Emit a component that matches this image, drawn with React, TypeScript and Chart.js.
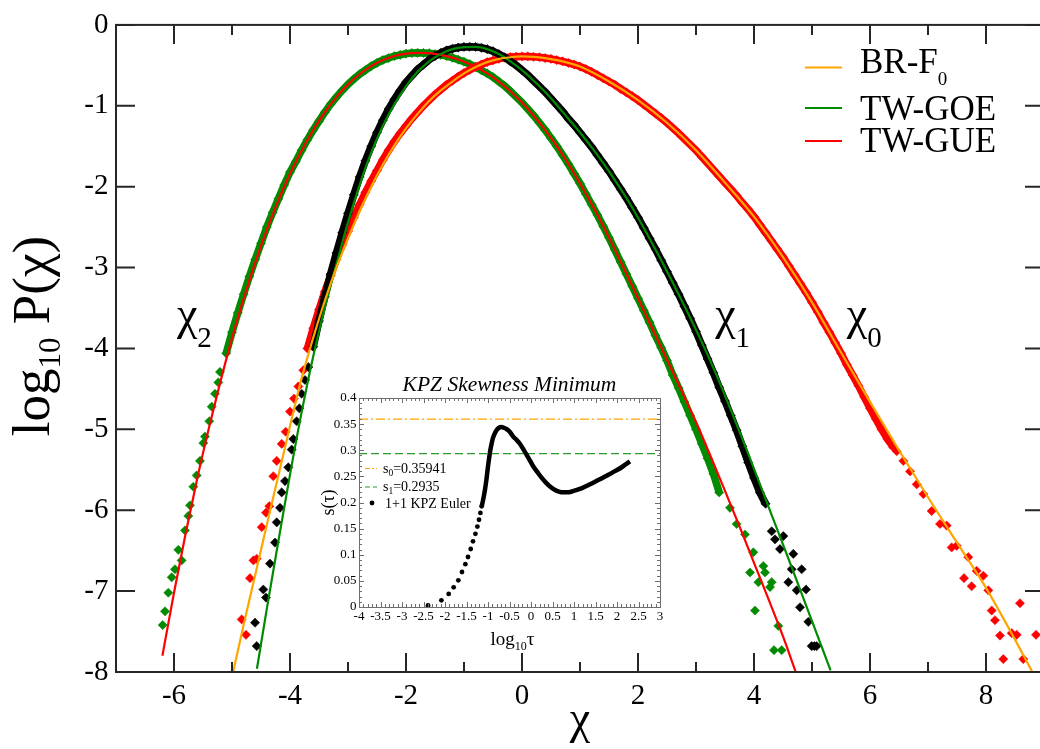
import React, { useEffect, useRef } from 'react';
import { Chart, registerables } from 'chart.js';

Chart.register(...registerables);

const SERIF = '"Liberation Serif", "Times New Roman", serif';
Chart.defaults.font.family = SERIF;
Chart.defaults.color = '#000';

const AXIS = '#262626';
const ORANGE = '#ffa500';
const GREEN = '#008b00';
const RED = '#ff0000';
const BLACK = '#000000';

// ---------------- main chart axes ----------------
const X_MIN = -7;
const X_MAX = 9;
const Y_MIN = -8;
const Y_MAX = 0;
const X_TICKS = [-6, -4, -2, 0, 2, 4, 6, 8];
const X_MINOR_TICKS = [-7, -5, -3, -1, 1, 3, 5, 7, 9];
const Y_TICKS = [-8, -7, -6, -5, -4, -3, -2, -1, 0];

// ---------------- theory curves (x, log10 P) ----------------
const BR_F0 = [
  [-4.98, -8.0], [-4.8, -7.42], [-4.6, -6.8], [-4.4, -6.18], [-4.2, -5.57], [-4.0, -4.96], [-3.8, -4.37],
  [-3.6, -3.87], [-3.4, -3.41], [-3.2, -3.0], [-3.0, -2.64], [-2.8, -2.3], [-2.6, -2.0], [-2.4, -1.73],
  [-2.2, -1.49], [-2.0, -1.28], [-1.8, -1.1], [-1.6, -0.94], [-1.4, -0.81], [-1.2, -0.7], [-1.0, -0.6],
  [-0.8, -0.52], [-0.6, -0.46], [-0.4, -0.42], [-0.2, -0.4], [0, -0.39], [0.2, -0.395], [0.4, -0.41],
  [0.6, -0.435], [0.8, -0.47], [1.0, -0.515], [1.5, -0.7], [2.0, -0.93], [2.5, -1.21], [3.0, -1.55],
  [3.5, -1.95], [4.0, -2.37], [4.5, -2.87], [5.0, -3.43], [5.5, -4.05], [6.0, -4.66], [6.5, -5.26],
  [7.0, -5.84], [7.5, -6.4], [8.0, -6.96], [8.5, -7.6], [8.8, -8.0],
];

const TW_GOE = [
  [-4.57, -7.96], [-4.4, -7.22], [-4.2, -6.38], [-4.0, -5.56], [-3.8, -4.79], [-3.6, -4.1], [-3.4, -3.5],
  [-3.2, -2.96], [-3.0, -2.44], [-2.8, -1.98], [-2.6, -1.58], [-2.4, -1.25], [-2.2, -0.98], [-2.0, -0.76],
  [-1.8, -0.58], [-1.6, -0.45], [-1.4, -0.36], [-1.2, -0.3], [-1.0, -0.275], [-0.8, -0.272], [-0.6, -0.3],
  [-0.4, -0.36], [-0.2, -0.45], [0, -0.56], [0.2, -0.69], [0.4, -0.83], [0.6, -0.99], [0.8, -1.16],
  [1.0, -1.33], [1.25, -1.56], [1.5, -1.81], [1.8, -2.14], [2.1, -2.51], [2.4, -2.91], [2.7, -3.33],
  [3.0, -3.77], [3.3, -4.24], [3.6, -4.76], [3.9, -5.3], [4.3, -6.05], [4.7, -6.8], [5.0, -7.37], [5.32, -7.98],
];

const TW_GUE = [
  [-6.2, -7.8], [-6.0, -7.02], [-5.8, -6.29], [-5.6, -5.61], [-5.4, -4.99], [-5.2, -4.41], [-5.0, -3.875],
  [-4.8, -3.385], [-4.6, -2.94], [-4.4, -2.535], [-4.2, -2.17], [-4.0, -1.84], [-3.8, -1.556], [-3.6, -1.3],
  [-3.4, -1.08], [-3.2, -0.893], [-3.0, -0.735], [-2.8, -0.61], [-2.6, -0.51], [-2.4, -0.435], [-2.2, -0.385],
  [-2.0, -0.355], [-1.8, -0.345], [-1.6, -0.35], [-1.4, -0.37], [-1.2, -0.405], [-1.0, -0.455], [-0.8, -0.52],
  [-0.6, -0.6], [-0.4, -0.7], [-0.2, -0.82], [0, -0.96], [0.2, -1.12], [0.4, -1.3], [0.6, -1.5], [0.8, -1.72],
  [1.0, -1.96], [1.25, -2.28], [1.5, -2.63], [1.75, -3.0], [2.0, -3.38], [2.25, -3.76], [2.5, -4.14],
  [2.75, -4.52], [3.0, -4.91], [3.25, -5.33], [3.5, -5.76], [3.75, -6.2], [4.0, -6.65], [4.25, -7.1],
  [4.5, -7.56], [4.72, -8.0],
];

// ---------------- measured histograms (diamonds) ----------------
// chi_0 (red)
const CHI0_LEFT = [
  [-4.833, -7.35], [-4.759, -7.54], [-4.69, -6.84], [-4.63, -6.62], [-4.574, -6.6], [-4.488, -6.21],
  [-4.414, -6.03], [-4.357, -5.95], [-4.288, -5.58], [-4.229, -5.39], [-4.143, -5.18], [-4.075, -5.03],
  [-4.0, -4.78], [-3.931, -4.62], [-3.856, -4.47], [-3.77, -4.27],
];
const CHI0_CORE_X = [
  -3.7, -3.6, -3.5, -3.4, -3.3, -3.2, -3.1, -3.0, -2.9, -2.8, -2.7, -2.6, -2.5, -2.4, -2.3, -2.2, -2.1, -2.0,
  -1.9, -1.8, -1.7, -1.6, -1.5, -1.4, -1.3, -1.2, -1.1, -1.0, -0.9, -0.8, -0.7, -0.6, -0.5, -0.4, -0.3, -0.2,
  -0.1, 0.0, 0.1, 0.2, 0.3, 0.4, 0.5, 0.6, 0.7, 0.8, 0.9, 1.0, 1.1, 1.2, 1.3, 1.4, 1.5, 1.6, 1.7, 1.8, 1.9,
  2.0, 2.1, 2.2, 2.3, 2.4, 2.5, 2.6, 2.7, 2.8, 2.9, 3.0, 3.1, 3.2, 3.3, 3.4, 3.5, 3.6, 3.7, 3.8, 3.9, 4.0,
  4.1, 4.2, 4.3, 4.4, 4.5, 4.6, 4.7, 4.8, 4.9, 5.0, 5.1, 5.2, 5.3, 5.4, 5.5, 5.6, 5.7, 5.8, 5.9, 6.0, 6.1,
  6.2, 6.3, 6.4,
];
const CHI0_CORE_Y = [
  -4.0, -3.75, -3.52, -3.3, -3.1, -2.9, -2.72, -2.55, -2.38, -2.22, -2.07, -1.93, -1.8, -1.67, -1.55, -1.44,
  -1.34, -1.25, -1.16, -1.08, -1.0, -0.93, -0.86, -0.8, -0.74, -0.69, -0.64, -0.595, -0.555, -0.52, -0.49,
  -0.46, -0.44, -0.42, -0.405, -0.398, -0.393, -0.39, -0.39, -0.395, -0.4, -0.41, -0.42, -0.435, -0.45,
  -0.47, -0.49, -0.515, -0.545, -0.58, -0.62, -0.66, -0.7, -0.74, -0.79, -0.835, -0.88, -0.93, -0.985,
  -1.04, -1.095, -1.15, -1.21, -1.275, -1.34, -1.41, -1.48, -1.55, -1.63, -1.71, -1.79, -1.87, -1.95,
  -2.03, -2.11, -2.2, -2.28, -2.37, -2.47, -2.57, -2.67, -2.77, -2.87, -2.98, -3.09, -3.2, -3.31, -3.43,
  -3.55, -3.68, -3.8, -3.93, -4.06, -4.2, -4.33, -4.46, -4.6, -4.74, -4.87, -5.0, -5.12, -5.22,
];
const CHI0_RIGHT = [
  [6.46, -5.27], [6.575, -5.39], [6.69, -5.52], [6.805, -5.68], [6.92, -5.8], [7.063, -6.01], [7.207, -6.17],
  [7.322, -6.19], [7.408, -6.46], [7.494, -6.44], [7.621, -6.84], [7.695, -6.58], [7.753, -6.94],
  [7.839, -6.75], [7.954, -6.81], [8.04, -6.99], [8.098, -7.24], [8.155, -7.36], [8.241, -7.55],
  [8.298, -7.84], [8.443, -7.52], [8.529, -7.54], [8.586, -7.15], [8.643, -7.84], [8.862, -7.54],
];

// chi_1 (black)
const CHI1_LEFT = [
  [-4.574, -7.68], [-4.603, -7.39], [-4.414, -7.08], [-4.46, -6.98], [-4.345, -6.66], [-4.259, -6.4],
  [-4.229, -6.15], [-4.172, -5.97], [-4.143, -5.78], [-4.086, -5.64], [-4.029, -5.47], [-3.971, -5.25],
  [-3.943, -5.12], [-3.885, -4.9], [-3.839, -4.74], [-3.799, -4.56], [-3.741, -4.39], [-3.684, -4.23],
];
const CHI1_CORE_X = [
  -3.6, -3.5, -3.4, -3.3, -3.2, -3.1, -3.0, -2.9, -2.8, -2.7, -2.6, -2.5, -2.4, -2.3, -2.2, -2.1, -2.0,
  -1.9, -1.8, -1.7, -1.6, -1.5, -1.4, -1.3, -1.2, -1.1, -1.0, -0.9, -0.8, -0.7, -0.6, -0.5, -0.4, -0.3,
  -0.2, -0.1, 0.0, 0.1, 0.2, 0.3, 0.4, 0.5, 0.6, 0.7, 0.8, 0.9, 1.0, 1.1, 1.2, 1.3, 1.4, 1.5, 1.6, 1.7,
  1.8, 1.9, 2.0, 2.1, 2.2, 2.3, 2.4, 2.5, 2.6, 2.7, 2.8, 2.9, 3.0, 3.1, 3.2, 3.3, 3.4, 3.5, 3.6, 3.7, 3.8,
  3.9, 4.0, 4.1, 4.2,
];
const CHI1_CORE_Y = [
  -3.98, -3.66, -3.36, -3.08, -2.82, -2.57, -2.33, -2.1, -1.88, -1.68, -1.5, -1.33, -1.18, -1.04, -0.92,
  -0.81, -0.71, -0.63, -0.55, -0.49, -0.43, -0.385, -0.345, -0.315, -0.295, -0.28, -0.272, -0.27, -0.272,
  -0.283, -0.3, -0.325, -0.36, -0.4, -0.45, -0.5, -0.56, -0.62, -0.69, -0.76, -0.83, -0.91, -0.99, -1.07,
  -1.16, -1.24, -1.33, -1.42, -1.51, -1.61, -1.71, -1.81, -1.92, -2.03, -2.14, -2.26, -2.38, -2.51, -2.64,
  -2.77, -2.91, -3.05, -3.19, -3.33, -3.48, -3.63, -3.79, -3.96, -4.13, -4.3, -4.48, -4.65, -4.83, -5.01,
  -5.21, -5.41, -5.6, -5.78, -5.92,
];
const CHI1_RIGHT = [
  [4.305, -6.26], [4.362, -6.36], [4.506, -6.32], [4.448, -6.48], [4.678, -6.54], [4.649, -6.73],
  [4.822, -6.73], [4.592, -6.89], [4.736, -6.99], [4.897, -6.98], [4.793, -7.2], [4.937, -7.38],
  [4.994, -7.68], [5.04, -7.68], [5.08, -7.68],
];

// chi_2 (green)
const CHI2_LEFT = [
  [-6.195, -7.42], [-6.155, -7.25], [-6.098, -7.02], [-6.04, -6.83], [-5.983, -6.73], [-5.925, -6.49],
  [-5.868, -6.62], [-5.81, -6.25], [-5.753, -6.07], [-5.724, -5.94], [-5.667, -5.71], [-5.609, -5.57],
  [-5.552, -5.39], [-5.494, -5.17], [-5.466, -5.09], [-5.391, -4.9], [-5.35, -4.72], [-5.293, -4.56],
  [-5.236, -4.42], [-5.207, -4.29],
];
const CHI2_CORE_X = [
  -5.1, -5.0, -4.9, -4.8, -4.7, -4.6, -4.5, -4.4, -4.3, -4.2, -4.1, -4.0, -3.9, -3.8, -3.7, -3.6, -3.5,
  -3.4, -3.3, -3.2, -3.1, -3.0, -2.9, -2.8, -2.7, -2.6, -2.5, -2.4, -2.3, -2.2, -2.1, -2.0, -1.9, -1.8,
  -1.7, -1.6, -1.5, -1.4, -1.3, -1.2, -1.1, -1.0, -0.9, -0.8, -0.7, -0.6, -0.5, -0.4, -0.3, -0.2, -0.1,
  0.0, 0.1, 0.2, 0.3, 0.4, 0.5, 0.6, 0.7, 0.8, 0.9, 1.0, 1.1, 1.2, 1.3, 1.4, 1.5, 1.6, 1.7, 1.8, 1.9,
  2.0, 2.1, 2.2, 2.3, 2.4, 2.5, 2.6, 2.7, 2.8, 2.9, 3.0, 3.1, 3.2, 3.3, 3.4,
];
const CHI2_CORE_Y = [
  -4.06, -3.8, -3.56, -3.33, -3.11, -2.9, -2.7, -2.5, -2.32, -2.15, -1.98, -1.82, -1.69, -1.55, -1.42,
  -1.3, -1.19, -1.08, -0.98, -0.893, -0.81, -0.735, -0.67, -0.61, -0.56, -0.51, -0.47, -0.435, -0.41,
  -0.385, -0.37, -0.355, -0.348, -0.345, -0.347, -0.35, -0.36, -0.37, -0.385, -0.405, -0.43, -0.455,
  -0.485, -0.52, -0.56, -0.6, -0.645, -0.7, -0.755, -0.82, -0.89, -0.96, -1.04, -1.12, -1.21, -1.3,
  -1.4, -1.5, -1.61, -1.72, -1.84, -1.96, -2.09, -2.22, -2.35, -2.49, -2.63, -2.78, -2.93, -3.08, -3.23,
  -3.38, -3.53, -3.68, -3.84, -3.99, -4.15, -4.33, -4.49, -4.66, -4.83, -5.0, -5.18, -5.36, -5.55, -5.78,
];
const CHI2_RIGHT = [
  [3.586, -5.97], [3.701, -6.17], [3.845, -6.3], [3.988, -6.52], [3.931, -6.77], [4.161, -6.69],
  [4.19, -6.77], [4.075, -6.89], [4.305, -6.89], [4.276, -6.95], [4.017, -7.24], [4.419, -7.43],
  [4.345, -7.73], [4.477, -7.73],
];

const LEGEND_ITEMS = [
  { text: 'BR-F', sub: '0' },
  { text: 'TW-GOE', sub: '' },
  { text: 'TW-GUE', sub: '' },
];
const CURVE_TAGS = [
  { sub: '2', x: -5.95, y: -3.76 },
  { sub: '1', x: 3.33, y: -3.76 },
  { sub: '0', x: 5.6, y: -3.76 },
];

// ---------------- inset: skewness ----------------
const INSET_X_TICKS = [-4, -3.5, -3, -2.5, -2, -1.5, -1, -0.5, 0, 0.5, 1, 1.5, 2, 2.5, 3];
const INSET_Y_TICKS = [0, 0.05, 0.1, 0.15, 0.2, 0.25, 0.3, 0.35, 0.4];
const S0 = 0.35941;
const S1 = 0.2935;
const KPZ_SPARSE = [
  [-2.395, 0.003], [-2.084, 0.0127], [-1.914, 0.025], [-1.798, 0.0376], [-1.69, 0.051], [-1.605, 0.067],
  [-1.526, 0.082], [-1.465, 0.0957], [-1.402, 0.111], [-1.349, 0.1256], [-1.293, 0.14], [-1.247, 0.154],
  [-1.209, 0.167], [-1.177, 0.18], [-1.147, 0.1926],
];
const KPZ_DENSE = [
  [-1.147, 0.1926], [-1.116, 0.204], [-1.09, 0.215], [-1.07, 0.2245], [-1.037, 0.2437], [-1.0, 0.269],
  [-0.97, 0.287], [-0.944, 0.301], [-0.91, 0.315], [-0.884, 0.3235], [-0.85, 0.331], [-0.805, 0.338],
  [-0.75, 0.343], [-0.688, 0.3445], [-0.63, 0.343], [-0.572, 0.3407], [-0.5, 0.336], [-0.419, 0.3266],
  [-0.35, 0.321], [-0.263, 0.313], [-0.15, 0.298], [-0.05, 0.284], [0.047, 0.27], [0.15, 0.258],
  [0.25, 0.247], [0.358, 0.237], [0.45, 0.23], [0.55, 0.2245], [0.65, 0.221], [0.744, 0.2195],
  [0.85, 0.2195], [0.95, 0.221], [1.05, 0.2235], [1.2, 0.228], [1.35, 0.234], [1.5, 0.24], [1.65, 0.2465],
  [1.8, 0.253], [1.95, 0.26], [2.1, 0.267], [2.2, 0.273], [2.3, 0.2787],
];

// ---------------- helpers ----------------
const pts = (pairs: number[][]) => pairs.map(([x, y]) => ({ x, y }));
const zip = (xs: number[], ys: number[]) => xs.map((x, i) => ({ x, y: ys[i] }));

type Run = { t: string; size: number; dy?: number; italic?: boolean };
function drawRuns(ctx: CanvasRenderingContext2D, runs: Run[], x: number, y: number, align: 'left' | 'center') {
  const f = (r: Run) => `${r.italic ? 'italic ' : ''}${r.size}px ${SERIF}`;
  let total = 0;
  runs.forEach((r) => {
    ctx.font = f(r);
    total += ctx.measureText(r.t).width;
  });
  let cx = align === 'center' ? x - total / 2 : x;
  ctx.textAlign = 'left';
  ctx.textBaseline = 'alphabetic';
  runs.forEach((r) => {
    ctx.font = f(r);
    ctx.fillText(r.t, cx, y + (r.dy || 0));
    cx += ctx.measureText(r.t).width;
  });
}

function curve(label: string, color: string, data: number[][]) {
  return {
    label,
    data: pts(data),
    showLine: true,
    borderColor: color,
    backgroundColor: color,
    borderWidth: 2.2,
    pointRadius: 0,
    cubicInterpolationMode: 'monotone',
    order: 0,
  };
}

function observed(label: string, color: string, left: number[][], cx: number[], cy: number[], right: number[][], order: number) {
  const data = [...pts(left), ...zip(cx, cy), ...pts(right)];
  const a = left.length;
  const b = left.length + cx.length - 1;
  return {
    label,
    data,
    showLine: true,
    borderColor: color,
    borderWidth: 7.5,
    segment: {
      borderColor: (ctx: any) => (ctx.p0DataIndex >= a && ctx.p1DataIndex <= b ? color : 'rgba(0,0,0,0)'),
    },
    pointStyle: 'rectRot',
    pointRadius: 4.6,
    pointBackgroundColor: color,
    pointBorderColor: color,
    pointBorderWidth: 0.5,
    tension: 0,
    order,
  };
}

const mainDecor = {
  id: 'mainDecor',
  afterDraw(chart: any) {
    const { ctx, chartArea: a, scales } = chart;
    const xs = scales.x;
    const ys = scales.y;
    ctx.save();
    ctx.strokeStyle = AXIS;
    ctx.lineWidth = 2;
    ctx.beginPath();
    const xt = (v: number, len: number) => {
      const p = xs.getPixelForValue(v);
      ctx.moveTo(p, a.bottom);
      ctx.lineTo(p, a.bottom - len);
      ctx.moveTo(p, a.top);
      ctx.lineTo(p, a.top + len);
    };
    X_TICKS.forEach((v) => xt(v, 19));
    X_MINOR_TICKS.forEach((v) => xt(v, 10));
    Y_TICKS.forEach((v) => {
      const p = ys.getPixelForValue(v);
      ctx.moveTo(a.left, p);
      ctx.lineTo(a.left + 19, p);
      ctx.moveTo(a.right, p);
      ctx.lineTo(a.right - 19, p);
    });
    ctx.stroke();
    ctx.strokeRect(a.left, a.top, a.right - a.left, a.bottom - a.top);

    // legend (top right, inside plot)
    const lineY = [67.5, 108, 141];
    const textY = [73, 120, 152];
    LEGEND_ITEMS.forEach((it, i) => {
      const ds = chart.data.datasets[i];
      ctx.strokeStyle = ds.borderColor;
      ctx.lineWidth = 2.2;
      ctx.beginPath();
      ctx.moveTo(805, lineY[i]);
      ctx.lineTo(842, lineY[i]);
      ctx.stroke();
      ctx.fillStyle = '#000';
      const runs: Run[] = [{ t: it.text, size: 35 }];
      if (it.sub) runs.push({ t: it.sub, size: 19, dy: 12 });
      drawRuns(ctx, runs, 860, textY[i], 'left');
    });

    // curve tags chi_2, chi_1, chi_0
    ctx.fillStyle = '#000';
    CURVE_TAGS.forEach((t) => {
      drawRuns(ctx, [{ t: 'χ', size: 46 }, { t: t.sub, size: 29, dy: 18 }], xs.getPixelForValue(t.x), ys.getPixelForValue(t.y), 'left');
    });

    // y-axis title log10 P(chi)
    ctx.save();
    ctx.translate(49, 336);
    ctx.rotate(-Math.PI / 2);
    drawRuns(ctx, [{ t: 'log', size: 53 }, { t: '10', size: 31, dy: 11 }, { t: ' P(χ)', size: 53 }], 0, 0, 'center');
    ctx.restore();
    ctx.restore();
  },
};

const insetDecor = {
  id: 'insetDecor',
  afterDraw(chart: any) {
    const { ctx, chartArea: a, scales } = chart;
    const xs = scales.x;
    const ys = scales.y;
    ctx.save();
    ctx.strokeStyle = '#6e6e6e';
    ctx.lineWidth = 1;
    ctx.beginPath();
    for (let i = 0; i <= 70; i++) {
      const p = Math.round(xs.getPixelForValue(-4 + i * 0.1)) + 0.5;
      const len = i % 5 === 0 ? 5 : 3;
      ctx.moveTo(p, a.bottom);
      ctx.lineTo(p, a.bottom - len);
      ctx.moveTo(p, a.top);
      ctx.lineTo(p, a.top + len);
    }
    for (let i = 0; i <= 40; i++) {
      const p = Math.round(ys.getPixelForValue(i * 0.01)) + 0.5;
      const len = i % 5 === 0 ? 5 : 3;
      ctx.moveTo(a.left, p);
      ctx.lineTo(a.left + len, p);
      ctx.moveTo(a.right, p);
      ctx.lineTo(a.right - len, p);
    }
    ctx.stroke();
    ctx.strokeRect(a.left + 0.5, a.top + 0.5, a.right - a.left, a.bottom - a.top);

    ctx.fillStyle = '#000';
    // title
    drawRuns(ctx, [{ t: 'KPZ Skewness Minimum', size: 21.5, italic: true }], (a.left + a.right) / 2, 26, 'center');
    // x title
    drawRuns(ctx, [{ t: 'log', size: 19 }, { t: '10', size: 12, dy: 5 }, { t: 'τ', size: 19 }], (a.left + a.right) / 2 + 3, 280, 'center');
    // y title
    ctx.save();
    ctx.translate(44, (a.top + a.bottom) / 2);
    ctx.rotate(-Math.PI / 2);
    drawRuns(ctx, [{ t: 's(τ)', size: 18 }], 0, 0, 'center');
    ctx.restore();

    // legend
    const sx0 = 75;
    const sx1 = 87;
    const ds0 = chart.data.datasets[2];
    const ds1 = chart.data.datasets[3];
    ctx.lineWidth = 1.2;
    ctx.strokeStyle = ds0.borderColor;
    ctx.setLineDash([5, 2, 2, 2]);
    ctx.beginPath();
    ctx.moveTo(sx0, 103.5);
    ctx.lineTo(sx1, 103.5);
    ctx.stroke();
    ctx.strokeStyle = ds1.borderColor;
    ctx.setLineDash([5, 3]);
    ctx.beginPath();
    ctx.moveTo(sx0, 122);
    ctx.lineTo(sx1, 122);
    ctx.stroke();
    ctx.setLineDash([]);
    ctx.fillStyle = '#000';
    ctx.beginPath();
    ctx.arc(82, 138, 2.4, 0, Math.PI * 2);
    ctx.fill();
    drawRuns(ctx, [{ t: 's', size: 14 }, { t: '0', size: 9.5, dy: 3 }, { t: '=0.35941', size: 14 }], 93, 108, 'left');
    drawRuns(ctx, [{ t: 's', size: 14 }, { t: '1', size: 9.5, dy: 3 }, { t: '=0.2935', size: 14 }], 93, 126, 'left');
    drawRuns(ctx, [{ t: '1+1 KPZ Euler', size: 14 }], 95, 143, 'left');
    ctx.restore();
  },
};

export default function App() {
  const mainRef = useRef<HTMLCanvasElement>(null);
  const insetRef = useRef<HTMLCanvasElement>(null);

  useEffect(() => {
    const main = new Chart(mainRef.current as HTMLCanvasElement, {
      type: 'scatter',
      data: {
        datasets: [
          curve('BR-F0', ORANGE, BR_F0),
          curve('TW-GOE', GREEN, TW_GOE),
          curve('TW-GUE', RED, TW_GUE),
          observed('χ1', BLACK, CHI1_LEFT, CHI1_CORE_X, CHI1_CORE_Y, CHI1_RIGHT, 1),
          observed('χ0', RED, CHI0_LEFT, CHI0_CORE_X, CHI0_CORE_Y, CHI0_RIGHT, 2),
          observed('χ2', GREEN, CHI2_LEFT, CHI2_CORE_X, CHI2_CORE_Y, CHI2_RIGHT, 3),
        ] as any,
      },
      options: {
        responsive: false,
        animation: false,
        devicePixelRatio: 1,
        events: [],
        layout: { padding: { top: 21, right: 6, left: 0, bottom: 0 } },
        plugins: { legend: { display: false }, tooltip: { enabled: false } },
        scales: {
          x: {
            type: 'linear',
            min: X_MIN,
            max: X_MAX,
            afterBuildTicks: (s: any) => {
              s.ticks = X_TICKS.map((v) => ({ value: v }));
            },
            afterFit: (s: any) => {
              s.height = 77;
            },
            grid: { display: false, drawTicks: false },
            border: { display: false },
            ticks: {
              font: { family: SERIF, size: 29 },
              color: '#000',
              padding: 6.6,
              maxRotation: 0,
              autoSkip: false,
              callback: (v: any) => String(v),
            },
            title: { display: true, text: 'χ', font: { family: SERIF, size: 46 }, color: '#000', padding: { top: 0, bottom: 0.6 } },
          },
          y: {
            type: 'linear',
            min: Y_MIN,
            max: Y_MAX,
            afterBuildTicks: (s: any) => {
              s.ticks = Y_TICKS.map((v) => ({ value: v }));
            },
            afterFit: (s: any) => {
              s.width = 116;
            },
            grid: { display: false, drawTicks: false },
            border: { display: false },
            ticks: {
              font: { family: SERIF, size: 29 },
              color: '#000',
              padding: 7.5,
              autoSkip: false,
              callback: (v: any) => String(v),
            },
          },
        },
      } as any,
      plugins: [mainDecor],
    });

    const inset = new Chart(insetRef.current as HTMLCanvasElement, {
      type: 'scatter',
      data: {
        datasets: [
          {
            label: '1+1 KPZ Euler',
            data: pts(KPZ_DENSE),
            showLine: true,
            borderColor: BLACK,
            borderWidth: 4.5,
            pointRadius: 0,
            cubicInterpolationMode: 'monotone',
            order: 0,
          },
          {
            label: '1+1 KPZ Euler (early)',
            data: pts(KPZ_SPARSE),
            showLine: false,
            pointRadius: 2.4,
            pointBackgroundColor: BLACK,
            pointBorderColor: BLACK,
            pointBorderWidth: 0,
            order: 1,
          },
          {
            label: 's0=0.35941',
            data: [{ x: -4, y: S0 }, { x: 3, y: S0 }],
            showLine: true,
            borderColor: ORANGE,
            borderWidth: 1.2,
            borderDash: [9, 3, 2, 3],
            pointRadius: 0,
            order: 2,
          },
          {
            label: 's1=0.2935',
            data: [{ x: -4, y: S1 }, { x: 3, y: S1 }],
            showLine: true,
            borderColor: '#2e9a2e',
            borderWidth: 1.2,
            borderDash: [8, 4],
            pointRadius: 0,
            order: 3,
          },
        ] as any,
      },
      options: {
        responsive: false,
        animation: false,
        devicePixelRatio: 1,
        events: [],
        layout: { padding: { top: 33, right: 10, left: 0, bottom: 0 } },
        plugins: { legend: { display: false }, tooltip: { enabled: false } },
        scales: {
          x: {
            type: 'linear',
            min: -4,
            max: 3,
            afterBuildTicks: (s: any) => {
              s.ticks = INSET_X_TICKS.map((v) => ({ value: v }));
            },
            afterFit: (s: any) => {
              s.height = 48;
            },
            grid: { display: false, drawTicks: false },
            border: { display: false },
            ticks: { font: { family: SERIF, size: 13 }, color: '#000', padding: 2.2, maxRotation: 0, minRotation: 0, autoSkip: false, callback: (v: any) => String(v) },
          },
          y: {
            type: 'linear',
            min: 0,
            max: 0.4,
            afterBuildTicks: (s: any) => {
              s.ticks = INSET_Y_TICKS.map((v) => ({ value: v }));
            },
            afterFit: (s: any) => {
              s.width = 69;
            },
            grid: { display: false, drawTicks: false },
            border: { display: false },
            ticks: { font: { family: SERIF, size: 13 }, color: '#000', padding: 2.5, autoSkip: false, callback: (v: any) => String(v) },
          },
        },
      } as any,
      plugins: [insetDecor],
    });

    return () => {
      main.destroy();
      inset.destroy();
    };
  }, []);

  return (
    <div style={{ position: 'fixed', left: 0, top: 0, width: 1040, height: 749, overflow: 'hidden', background: '#fff' }}>
      <canvas ref={mainRef} width={1050} height={749} style={{ position: 'absolute', left: 0, top: 0 }} />
      <canvas ref={insetRef} width={380} height={290} style={{ position: 'absolute', left: 290, top: 365 }} />
    </div>
  );
}
